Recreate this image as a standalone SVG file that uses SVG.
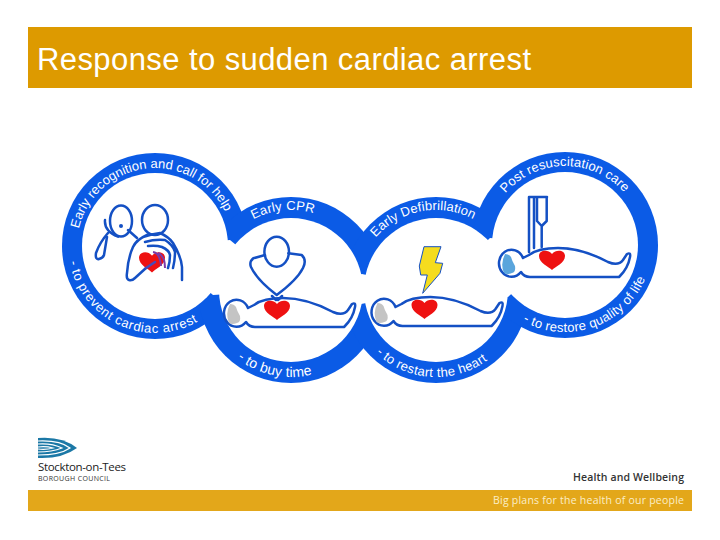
<svg xmlns="http://www.w3.org/2000/svg" width="720" height="540" viewBox="0 0 720 540">
<style>
text{font-family:"Liberation Sans",Arial,sans-serif}
.ring{fill:#0b5be6}
.in{fill:#fff}
.lab{fill:#fff;font-size:13px}
.ln{fill:none;stroke:#1450c4;stroke-width:2.500;stroke-linecap:round;stroke-linejoin:round}
.heart{fill:#ee1111}
.din{font-family:"Open Sans","Liberation Sans",sans-serif}
</style>
<defs>
<path id="heart" d="M0,10 C-3,7 -13,3 -13,-4 C-13,-10 -4,-11 0,-6 C4,-11 13,-10 13,-4 C13,3 3,7 0,10Z"/>
<path id="body" d="M248,308 L254,305 Q263,298 283,298 C300,298 318,304 333,312 C340,315 345,314 348,310 L352,304 Q356,302 355,307 Q353,318 345,326 L344,327 H255 Q249,327 246,322 A12.500 13.500 0 1 1 248,308Z"/>
<path id="shade" d="M230,304 Q234,304 236,307 Q237,311 240,316 Q241,322 237,323 Q232,325 229,323 Q225,314 230,304Z"/>
<path id="c1t" d="M79,228.700 A78 78 0 0 1 224.700,211"/>
<path id="c1b" d="M69.500,261.900 A87 87 0 0 0 197,322"/>
<path id="c2t" d="M253.400,219.400 A80 80 0 0 1 313.100,213.100"/>
<path id="c2b" d="M237.400,358.600 A87 87 0 0 0 312,374.400"/>
<path id="c3t" d="M375.600,237.500 A80 80 0 0 1 473,219"/>
<path id="c3b" d="M376,353 A87 87 0 0 0 487.900,359.900"/>
<path id="c4t" d="M505.400,193.200 A79 79 0 0 1 623.700,192.100"/>
<path id="c4b" d="M522.800,321.100 A87 87 0 0 0 645.100,279"/>
</defs>
<rect width="720" height="540" fill="#fff"/>
<g id="title">
<rect x="28" y="27" width="664" height="61" fill="#dd9a00"/>
<text x="37" y="70" font-size="31" fill="#fff" textLength="494">Response to sudden cardiac arrest</text>
</g>
<g id="rings">
<circle class="ring" cx="155" cy="246" r="93"/>
<circle class="ring" cx="291" cy="290" r="93"/>
<circle class="ring" cx="436" cy="290" r="93"/>
<circle class="ring" cx="565" cy="245" r="93"/>
<circle class="in" cx="155" cy="246" r="73"/>
<circle class="in" cx="291" cy="290" r="72"/>
<circle class="in" cx="436" cy="290" r="72"/>
<circle class="in" cx="565" cy="245" r="73"/>
<polygon class="in" points="155,246 230,240 291,290 213,295"/>
<polygon class="in" points="291,290 362,274 436,290 361,304"/>
<polygon class="in" points="436,290 490,238 565,245 508,297"/>
</g>
<g id="step1">
<text class="lab"><textPath href="#c1t" textLength="192">Early recognition and call for help</textPath></text>
<text class="lab"><textPath href="#c1b" textLength="165">- to prevent cardiac arrest</textPath></text>
<ellipse class="ln" cx="121" cy="221" rx="11" ry="15.500"/>
<ellipse class="ln" cx="155" cy="220" rx="13" ry="15"/>
<circle cx="121" cy="226" r="2" fill="#1450c4"/>
<path class="ln" stroke-width="3" d="M105,220 Q104,231 118,236.700 M108,233 Q100,242 96,253 Q95,260 99,259 Q103,258 104,255 L107,237 M128,230 L137,238"/>
<use href="#heart" class="heart" transform="translate(152,262) scale(1,1.050)"/>
<path fill="none" stroke="#7a3aa8" stroke-width="2" d="M158,253 Q165,256 165,268 M153,252 Q160,253 161,266"/>
<path class="ln" d="M147,235 Q136,240 133,247 Q128,258 127,273 Q126,279 129,280 Q132,281 135,278 L146,268 M143,237 Q152,234 160,233 Q169,237 173,243 Q181,256 182,267 L182,280 M145,242 Q155,239 165,240 Q173,245 175,252 Q175,260 173,268 M148,246 Q156,245 162,247 Q169,250 170,255 Q170,262 168,268"/>
<path fill="none" stroke="#4a4ab8" stroke-width="2.500" stroke-linecap="round" d="M146,268 L155,262"/>
</g>
<g id="step2">
<text class="lab"><textPath href="#c2t" textLength="62">Early CPR</textPath></text>
<text class="lab" style="font-size:14px"><textPath href="#c2b" textLength="79">- to buy time</textPath></text>
<ellipse class="ln" cx="276.700" cy="251.700" rx="12.300" ry="15"/>
<path class="ln" d="M265,255 L253.300,258.300 Q249,262 251,267 Q257,280 276.700,295 Q297,280 303,268 Q307,260 301.700,255 L288.300,253.300 M272,296 L276,300 M282,296 L278,300"/>
<use href="#body" class="ln"/>
<use href="#shade" fill="#c4c4c4"/>
<use href="#heart" class="heart" transform="translate(277,310)"/>
</g>
<g id="step3">
<text class="lab"><textPath href="#c3t" textLength="107">Early Defibrillation</textPath></text>
<text class="lab"><textPath href="#c3b" textLength="121">- to restart the heart</textPath></text>
<polygon points="424,246.700 441,246.700 435.300,262.700 442.700,263.300 440,273.300 422.700,293.300 427.300,275 420.700,275 419.300,266" fill="#f5dc1e" stroke="#1450c4" stroke-width="1"/>
<g transform="translate(147.500,-1)">
<use href="#body" class="ln"/>
<use href="#shade" fill="#c4c4c4"/>
<use href="#heart" class="heart" transform="translate(277,310)"/>
</g>
</g>
<g id="step4">
<text class="lab"><textPath href="#c4t" textLength="134">Post resuscitation care</textPath></text>
<text class="lab"><textPath href="#c4b" textLength="146">- to restore quality of life</textPath></text>
<path class="ln" d="M529,252 V197 H547 M534,197 V248 M537,198 V221 L541.700,226 L546.700,221 V198 M541.700,226 V247"/>
<g transform="translate(275,-50)">
<use href="#body" class="ln"/>
<use href="#shade" fill="#5aa5dc"/>
<use href="#heart" class="heart" transform="translate(277,310)"/>
</g>
</g>
<g id="logo">
<path d="M38,438 Q62,436 77,448 Q62,459 38,458Z" fill="#1b78a6"/>
<g fill="none" stroke="#fff" stroke-width="1.200">
<path d="M38,441 Q60,440 70,448 Q60,455 38,455"/>
<path d="M38,444 Q52,443 62,448 Q52,452 38,452"/>
<path d="M38,447 Q46,446 53,448 Q46,450 38,449"/>
</g>
<text class="din" x="38" y="471" font-size="11.500" fill="#222" textLength="88">Stockton-on-Tees</text>
<text class="din" x="38" y="481" font-size="7" fill="#333" textLength="72">BOROUGH COUNCIL</text>
</g>
<g id="footer">
<rect x="28" y="490" width="664" height="21" fill="#e3a71a"/>
<text class="din" x="573" y="481" font-size="10.500" font-weight="600" fill="#333" textLength="111">Health and Wellbeing</text>
<text class="din" x="493" y="504" font-size="10.500" fill="#fbeec8" textLength="191">Big plans for the health of our people</text>
</g>
</svg>
